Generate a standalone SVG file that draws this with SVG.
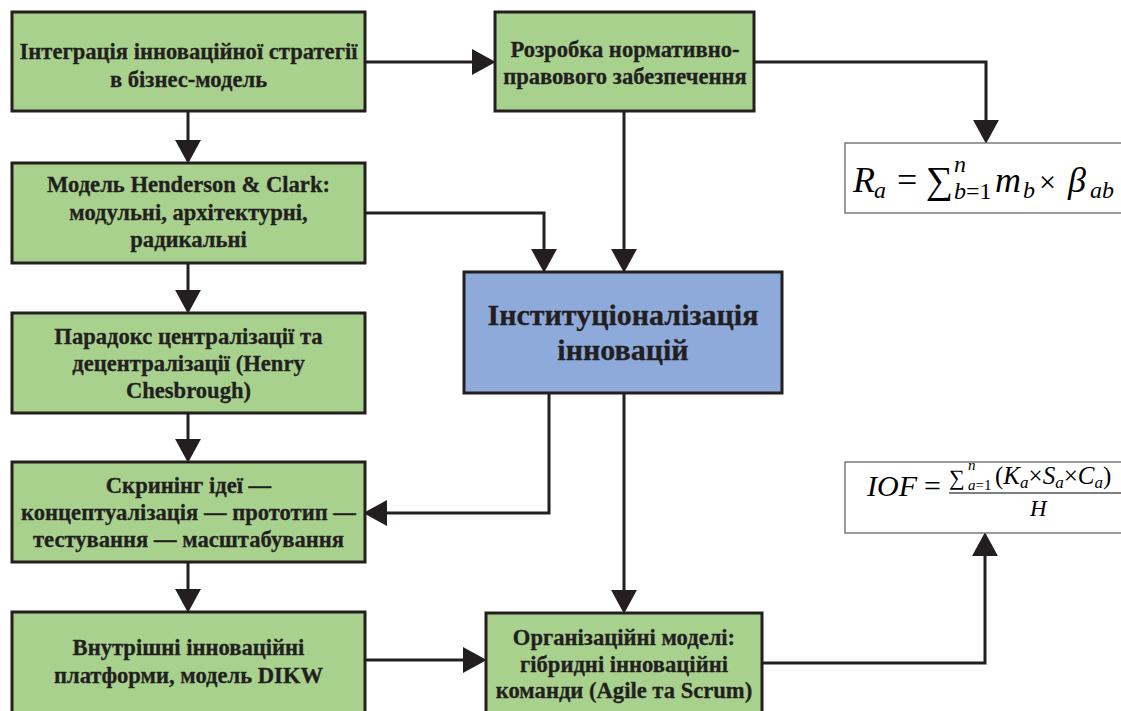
<svg xmlns="http://www.w3.org/2000/svg" width="1121" height="711" viewBox="0 0 1121 711">
<style>
.box{fill:#a9d18e;stroke:#231f20;stroke-width:3}
.blue{fill:#8eaadb;stroke:#231f20;stroke-width:3}
.t{font-family:'Liberation Serif','Times New Roman',serif;font-weight:bold;font-size:22.6px;fill:#231f20;stroke:#231f20;stroke-width:0.3;text-anchor:middle}
.tb{font-size:30px}
.con{fill:none;stroke:#231f20;stroke-width:3}
.fbox{fill:#fff;stroke:#595959;stroke-width:1.2}
.m{font-family:'Liberation Serif','Times New Roman',serif;fill:#000}
.i{font-style:italic}
</style>
<defs>
<marker id="ah" markerUnits="userSpaceOnUse" markerWidth="24" markerHeight="26" viewBox="0 0 22 24" refX="14" refY="12" orient="auto">
<path d="M0,0 L22,12 L0,24 Z" fill="#231f20"/>
</marker>
</defs>
<rect width="1121" height="711" fill="#fff"/>

<g id="connectors">
<path class="con" d="M365,62 H487" marker-end="url(#ah)"/>
<path class="con" d="M754,62 H986 V135" marker-end="url(#ah)"/>
<path class="con" d="M188,111 V155" marker-end="url(#ah)"/>
<path class="con" d="M188,263 V305" marker-end="url(#ah)"/>
<path class="con" d="M188,413 V454" marker-end="url(#ah)"/>
<path class="con" d="M188,562 V604" marker-end="url(#ah)"/>
<path class="con" d="M365,213 H544 V264" marker-end="url(#ah)"/>
<path class="con" d="M624,111 V264" marker-end="url(#ah)"/>
<path class="con" d="M549,393 V513 H372" marker-end="url(#ah)"/>
<path class="con" d="M624,393 V605" marker-end="url(#ah)"/>
<path class="con" d="M365,660 H478" marker-end="url(#ah)"/>
<path class="con" d="M762,663 H985 V541" marker-end="url(#ah)"/>
</g>

<g id="n1"><rect class="box" x="12" y="12" width="353" height="99"/>
<text class="t" x="188.5" y="59">Інтеграція інноваційної стратегії</text>
<text class="t" x="188.5" y="87">в бізнес-модель</text></g>

<g id="n2"><rect class="box" x="495" y="12" width="259" height="99"/>
<text class="t" x="625" y="57">Розробка нормативно-</text>
<text class="t" x="625" y="84">правового забезпечення</text></g>

<g id="n3"><rect class="box" x="12" y="163" width="353" height="100"/>
<text class="t" x="188.5" y="192">Модель Henderson &amp; Clark:</text>
<text class="t" x="188.5" y="220">модульні, архітектурні,</text>
<text class="t" x="188.5" y="247">радикальні</text></g>

<g id="n4"><rect class="box" x="12" y="313" width="353" height="100"/>
<text class="t" x="188.5" y="344">Парадокс централізації та</text>
<text class="t" x="188.5" y="371">децентралізації (Henry</text>
<text class="t" x="188.5" y="398">Chesbrough)</text></g>

<g id="n5"><rect class="box" x="12" y="462" width="353" height="100"/>
<text class="t" x="188.5" y="493">Скринінг ідеї —</text>
<text class="t" x="188.5" y="520">концептуалізація — прототип —</text>
<text class="t" x="188.5" y="547">тестування — масштабування</text></g>

<g id="n6"><rect class="box" x="12" y="612" width="353" height="103"/>
<text class="t" x="188.5" y="655">Внутрішні інноваційні</text>
<text class="t" x="188.5" y="683">платформи, модель DIKW</text></g>

<g id="n7"><rect class="blue" x="464" y="272" width="318" height="121"/>
<text class="t tb" x="623" y="325">Інституціоналізація</text>
<text class="t tb" x="623" y="360">інновацій</text></g>

<g id="n8"><rect class="box" x="486" y="613" width="276" height="102"/>
<text class="t" x="624" y="645">Організаційні моделі:</text>
<text class="t" x="624" y="672">гібридні інноваційні</text>
<text class="t" x="624" y="698">команди (Agile та Scrum)</text></g>

<g id="f1"><rect class="fbox" x="845" y="143" width="290" height="70"/>
<text class="m i" x="853" y="192" font-size="36">R</text>
<text class="m i" x="874" y="198" font-size="24">a</text>
<text class="m" x="897" y="192" font-size="36">=</text>
<text class="m" x="926" y="193" font-size="38">∑</text>
<text class="m i" x="954" y="172" font-size="24">n</text>
<text class="m i" x="954" y="199" font-size="24">b<tspan font-style="normal">=1</tspan></text>
<text class="m i" x="995" y="192" font-size="36">m</text>
<text class="m i" x="1023" y="198" font-size="24">b</text>
<text class="m" x="1039" y="192" font-size="30">×</text>
<text class="m i" x="1068" y="192" font-size="36">β</text>
<text class="m i" x="1090" y="198" font-size="24">ab</text></g>

<g id="f2"><rect class="fbox" x="845" y="462" width="290" height="71"/>
<text class="m i" x="867" y="496" font-size="30">IOF</text>
<text class="m" x="924" y="496" font-size="30">=</text>
<text class="m" x="949" y="485" font-size="22">∑</text>
<text class="m i" x="968" y="470" font-size="15">n</text>
<text class="m i" x="968" y="490" font-size="15">a<tspan font-style="normal">=1</tspan></text>
<text class="m" x="995" y="484" font-size="25">(<tspan font-style="italic">K</tspan><tspan font-style="italic" font-size="17" dy="4">a</tspan><tspan dy="-4">×</tspan><tspan font-style="italic">S</tspan><tspan font-style="italic" font-size="17" dy="4">a</tspan><tspan dy="-4">×</tspan><tspan font-style="italic">C</tspan><tspan font-style="italic" font-size="17" dy="4">a</tspan><tspan dy="-4">)</tspan></text>
<line x1="949" y1="493" x2="1121" y2="493" stroke="#000" stroke-width="1"/>
<text class="m i" x="1030" y="516" font-size="23">H</text></g>
</svg>
